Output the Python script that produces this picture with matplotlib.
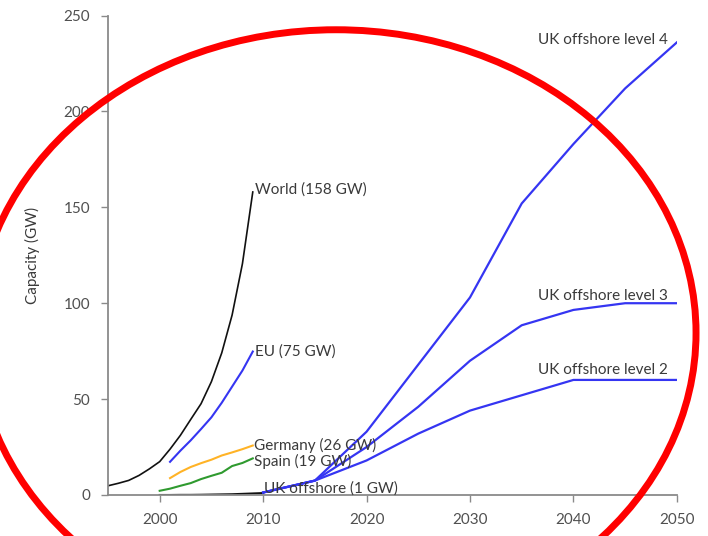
import matplotlib
matplotlib.use('Agg')
import matplotlib.pyplot as plt
from matplotlib.patches import Ellipse

plt.rcParams['font.family'] = ['Lato', 'DejaVu Sans']

# historical installed capacity (GW)
world_years = list(range(1995, 2010))
world = [4.8, 6.1, 7.6, 10.2, 13.6, 17.4, 23.9, 31.1, 39.4, 47.6, 59.1, 74.1, 93.8, 120.6, 158]

eu_years = list(range(2001, 2010))
eu = [17.3, 23.1, 28.5, 34.4, 40.5, 48.1, 56.5, 64.9, 74.8]

germany_years = list(range(2001, 2010))
germany = [8.8, 12.0, 14.6, 16.6, 18.4, 20.6, 22.2, 23.9, 25.8]

spain_years = list(range(2000, 2010))
spain = [2.2, 3.3, 4.8, 6.2, 8.3, 10.0, 11.6, 15.1, 16.7, 19.1]

uk_years = list(range(2000, 2011))
uk_offshore = [0.0, 0.0, 0.06, 0.06, 0.12, 0.21, 0.3, 0.39, 0.59, 0.8, 1.0]

# UK offshore scenarios
scen_years = [2010, 2015, 2020, 2025, 2030, 2035, 2040, 2045, 2050]
level4 = [1.3, 7.5, 33, 68, 103, 152, 183, 212, 236]
level3 = [1.3, 7.5, 25, 46, 70, 88.5, 96.5, 100, 100]
level2 = [1.3, 7.5, 18, 32, 44, 52, 60, 60, 60]

BLUE = '#3535f2'
TEXT = '#3a3a3a'
AXIS = '#8a8a8a'

fig = plt.figure(figsize=(7.08, 5.36), dpi=100)
ax = fig.add_axes([0.1525, 0.0765, 0.8035, 0.8945])

ax.plot(world_years, world, color='#111111', lw=1.2)
ax.plot(eu_years, eu, color=BLUE, lw=1.5)
ax.plot(germany_years, germany, color='#ffb326', lw=1.5)
ax.plot(spain_years, spain, color='#2f9a2f', lw=1.5)
ax.plot(uk_years, uk_offshore, color='#111111', lw=1.5)
for s in (level4, level3, level2):
    ax.plot(scen_years, s, color=BLUE, lw=1.6)


def label(text, x, y, dx, dy, ha='left'):
    ax.annotate(text, (x, y), xytext=(dx, dy), textcoords='offset points',
                ha=ha, va='center', fontsize=11, color=TEXT)


label('World (158 GW)', world_years[-1], world[-1], 1.5, 1.5)
label('EU (75 GW)', eu_years[-1], eu[-1], 1.5, 0)
label('Germany (26 GW)', germany_years[-1], germany[-1], 1, 0)
label('Spain (19 GW)', spain_years[-1], spain[-1], 1, -2)
label('UK offshore (1 GW)', uk_years[-1], uk_offshore[-1], 0.5, 3.5)
label('UK offshore level 4', scen_years[-1], level4[-1], -6.5, 1.5, ha='right')
label('UK offshore level 3', scen_years[-1], level3[-1], -6.5, 5.5, ha='right')
label('UK offshore level 2', scen_years[-1], level2[-1], -6.5, 7, ha='right')

ax.set_xlim(1995, 2050)
ax.set_ylim(0, 250)
ax.set_xticks(range(2000, 2051, 10))
ax.set_yticks(range(0, 251, 50))
ax.set_ylabel('Capacity (GW)', fontsize=11, color=TEXT, labelpad=17)

for side in ('top', 'right'):
    ax.spines[side].set_visible(False)
for side in ('left', 'bottom'):
    ax.spines[side].set_color(AXIS)
    ax.spines[side].set_linewidth(1.3)
ax.tick_params(direction='out', length=5, width=1, color=AXIS,
               labelsize=11, labelcolor='#505050', pad=8)

# red ring drawn over the chart
fig.add_artist(Ellipse((0.4746, 0.379), 1.017, 1.131, transform=fig.transFigure,
                       fill=False, edgecolor='#ff0000', lw=5, zorder=10, clip_on=False))

fig.savefig('out.png', dpi=100)
